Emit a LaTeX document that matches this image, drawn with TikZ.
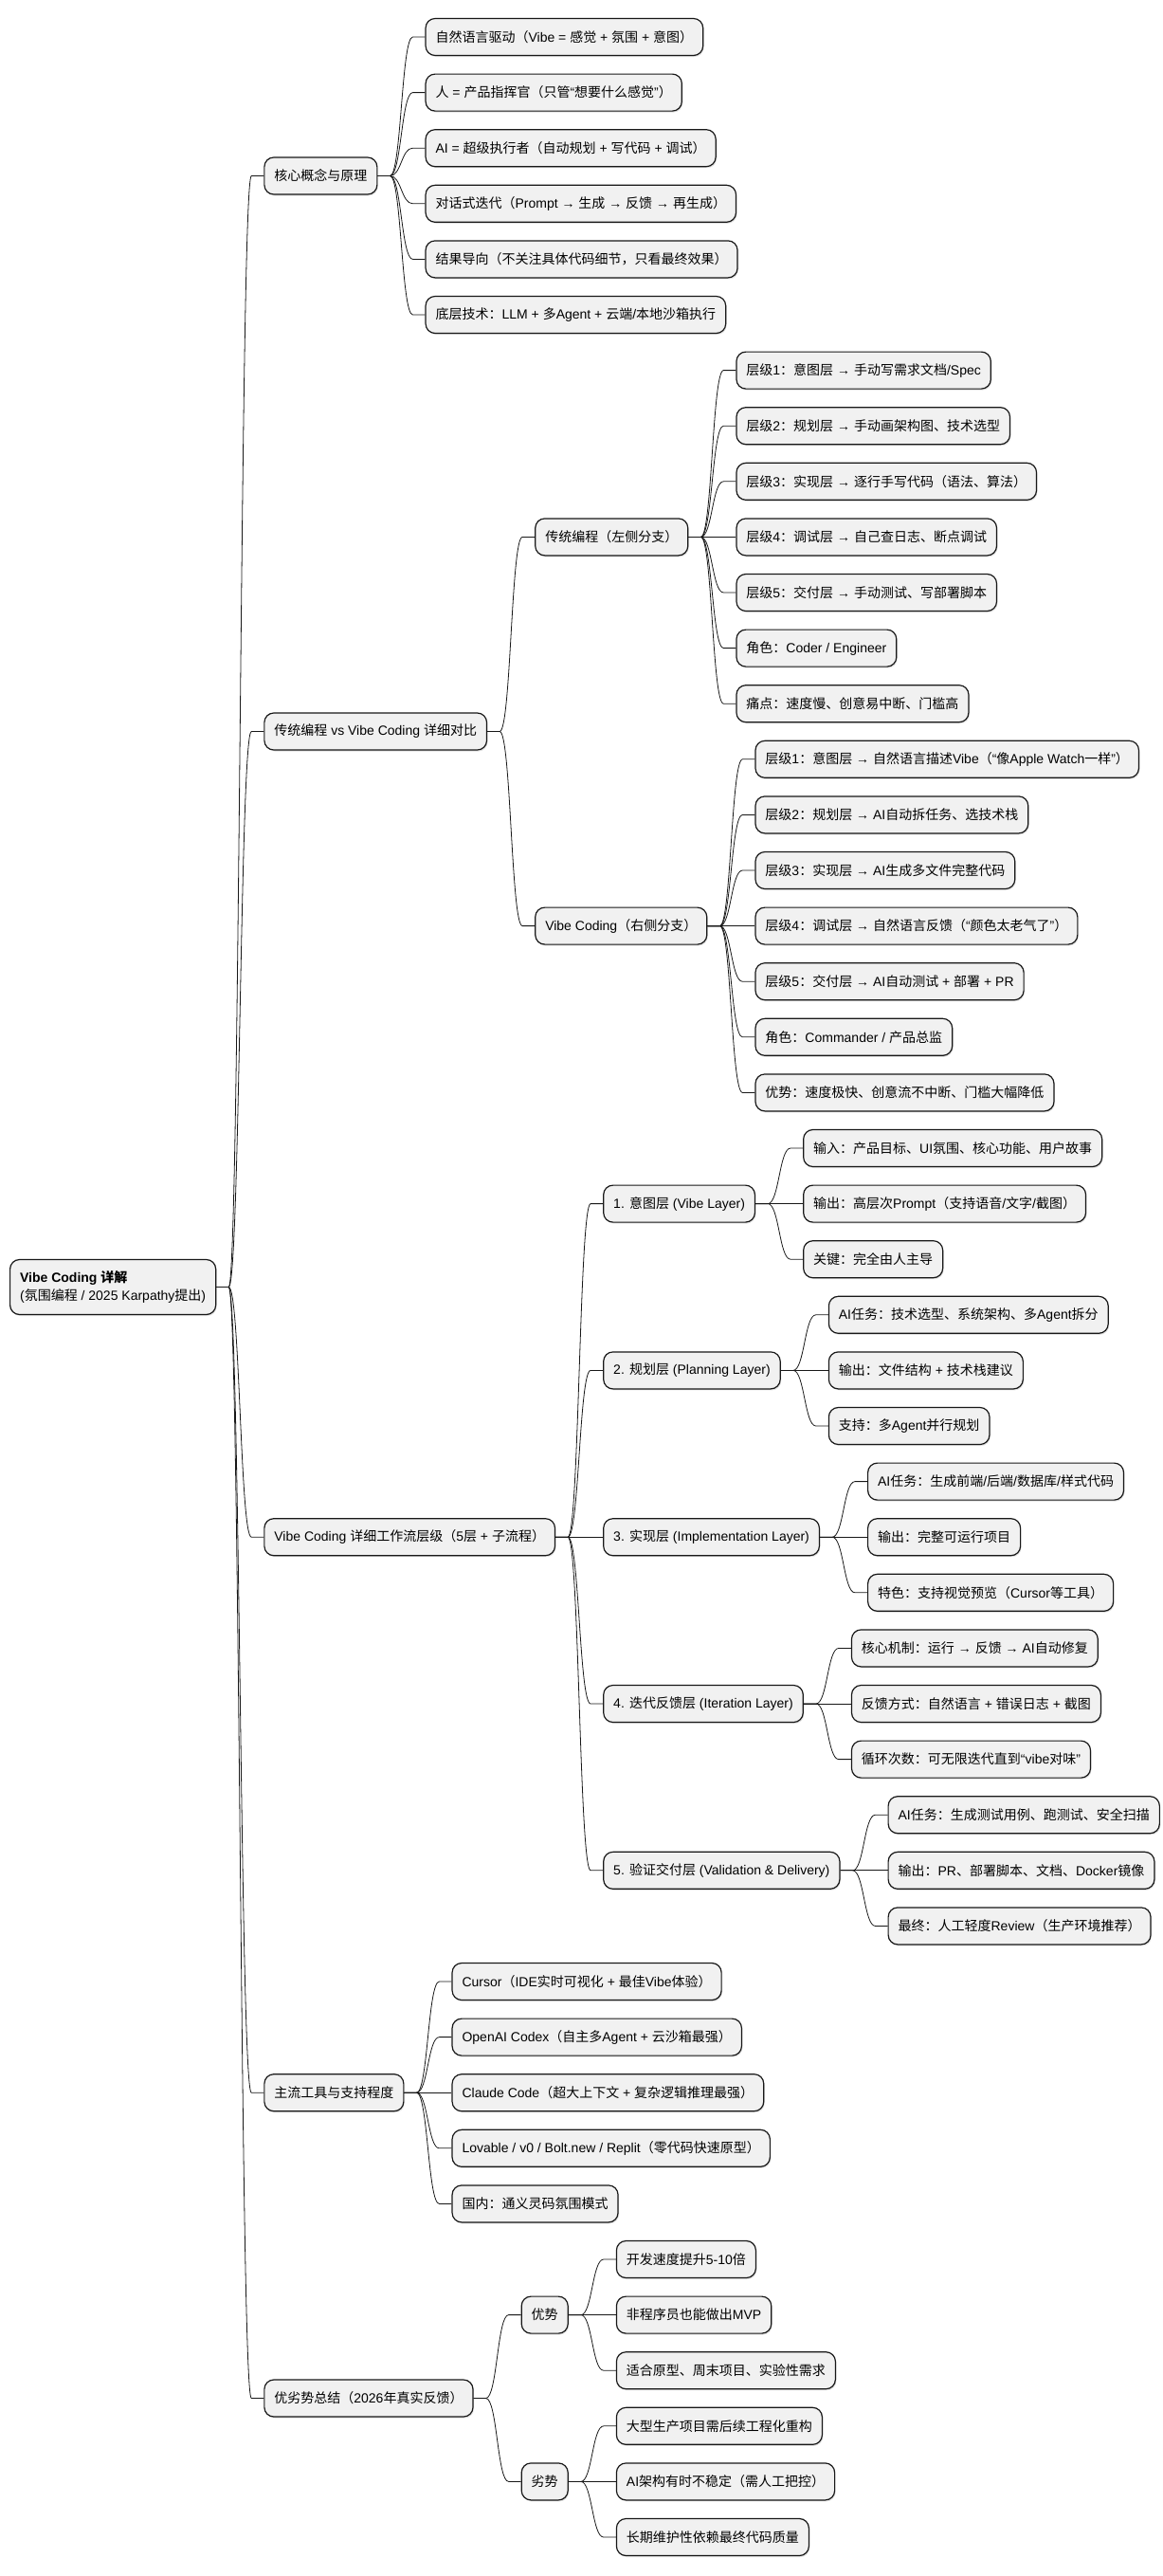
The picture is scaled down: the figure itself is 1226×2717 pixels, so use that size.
\documentclass[tikz,border=0pt]{standalone}
\usepackage{fontspec}
\setmainfont{Liberation Sans}
\newfontfamily\cjkfont{Noto Sans CJK SC}
\usepackage{xcolor}
\usetikzlibrary{positioning, shadows}

% Chinese characters are set in the CJK font, arrows in bold
\XeTeXinterchartokenstate=1
\chardef\cjkcls=9
\chardef\arrcls=10
\newcount\charidx
\charidx=32
\loop\XeTeXcharclass\charidx=0 \advance\charidx by 1 \ifnum\charidx<127 \repeat
\charidx="3000
\loop\XeTeXcharclass\charidx=\cjkcls \advance\charidx by 1 \ifnum\charidx<"A000 \repeat
\charidx="FF00
\loop\XeTeXcharclass\charidx=\cjkcls \advance\charidx by 1 \ifnum\charidx<"FF60 \repeat
\XeTeXcharclass"201C=0 \XeTeXcharclass"201D=0 \XeTeXcharclass"2192=\arrcls
\XeTeXinterchartoks 0 \cjkcls = {\begingroup\cjkfont}
\XeTeXinterchartoks 4095 \cjkcls = {\begingroup\cjkfont}
\XeTeXinterchartoks \cjkcls 0 = {\endgroup}
\XeTeXinterchartoks \cjkcls 4095 = {\endgroup}
\XeTeXinterchartoks 0 \arrcls = {\begingroup\bfseries}
\XeTeXinterchartoks 4095 \arrcls = {\begingroup\bfseries}
\XeTeXinterchartoks \arrcls 0 = {\endgroup}
\XeTeXinterchartoks \arrcls 4095 = {\endgroup}

\definecolor{boxgray}{HTML}{F1F1F1}
\definecolor{edge}{HTML}{181818}

\begin{document}
\begin{tikzpicture}[
    x=1pt, y=1pt,
    node distance=50pt,
    box/.style={draw=edge, line width=1.2pt, fill=boxgray, rounded corners=10pt, minimum height=39pt, inner xsep=10.5pt, inner ysep=2pt, anchor=west, font=\fontsize{14pt}{19pt}\selectfont,
        drop shadow={shadow xshift=1pt, shadow yshift=-1.5pt, opacity=0.25}},
    link/.style={draw=edge, line width=0.8pt, to path={-- ++(13,0) .. controls +(12,0) and +(-12,0) .. ([xshift=-13pt]\tikztotarget) -- (\tikztotarget)}}
]
\useasboundingbox (0,0) rectangle (1226,-2717);

% Root
\node[box, align=left, minimum height=58pt] (root) at (10,-1357.5) {\textbf{Vibe Coding 详解}\\(氛围编程 / 2025 Karpathy提出)};

% Main branches
\node[box, right=of root, yshift=1172pt] (core) {核心概念与原理};
\node[box, right=of root, yshift=586pt] (compare) {传统编程 vs Vibe Coding 详细对比};
\node[box, right=of root, yshift=-263.7pt] (flow) {Vibe Coding 详细工作流层级（5层 + 子流程）};
\node[box, right=of root, yshift=-849.7pt] (tools) {主流工具与支持程度};
\node[box, right=of root, yshift=-1172pt] (summary) {优劣势总结（2026年真实反馈）};

% Core concepts
\node[box, right=of core, yshift=146.5pt] (natural) {自然语言驱动（Vibe = 感觉 + 氛围 + 意图）};
\node[box, right=of core, yshift=87.9pt] (human) {人 = 产品指挥官（只管“想要什么感觉”）};
\node[box, right=of core, yshift=29.3pt] (executor) {AI = 超级执行者（自动规划 + 写代码 + 调试）};
\node[box, right=of core, yshift=-29.3pt] (dialog) {对话式迭代（Prompt → 生成 → 反馈 → 再生成）};
\node[box, right=of core, yshift=-87.9pt] (result) {结果导向（不关注具体代码细节，只看最终效果）};
\node[box, right=of core, yshift=-146.5pt] (basetech) {底层技术：LLM + 多Agent + 云端/本地沙箱执行};

% Comparison
\node[box, right=of compare, yshift=205.1pt] (trad) {传统编程（左侧分支）};
\node[box, right=of compare, yshift=-205.1pt] (vibe) {Vibe Coding（右侧分支）};

\node[box, right=of trad, yshift=175.8pt] (tradA) {层级1：意图层 → 手动写需求文档/Spec};
\node[box, right=of trad, yshift=117.2pt] (tradB) {层级2：规划层 → 手动画架构图、技术选型};
\node[box, right=of trad, yshift=58.6pt] (tradC) {层级3：实现层 → 逐行手写代码（语法、算法）};
\node[box, right=of trad] (tradD) {层级4：调试层 → 自己查日志、断点调试};
\node[box, right=of trad, yshift=-58.6pt] (tradE) {层级5：交付层 → 手动测试、写部署脚本};
\node[box, right=of trad, yshift=-117.2pt] (tradrole) {角色：Coder / Engineer};
\node[box, right=of trad, yshift=-175.8pt] (tradpain) {痛点：速度慢、创意易中断、门槛高};

\node[box, right=of vibe, yshift=175.8pt] (vibeA) {层级1：意图层 → 自然语言描述Vibe（“像Apple Watch一样”）};
\node[box, right=of vibe, yshift=117.2pt] (vibeB) {层级2：规划层 → AI自动拆任务、选技术栈};
\node[box, right=of vibe, yshift=58.6pt] (vibeC) {层级3：实现层 → AI生成多文件完整代码};
\node[box, right=of vibe] (vibeD) {层级4：调试层 → 自然语言反馈（“颜色太老气了”）};
\node[box, right=of vibe, yshift=-58.6pt] (vibeE) {层级5：交付层 → AI自动测试 + 部署 + PR};
\node[box, right=of vibe, yshift=-117.2pt] (viberole) {角色：Commander / 产品总监};
\node[box, right=of vibe, yshift=-175.8pt] (vibegain) {优势：速度极快、创意流不中断、门槛大幅降低};

% Workflow layers
\node[box, right=of flow, yshift=351.6pt] (intent) {1. 意图层 (Vibe Layer)};
\node[box, right=of flow, yshift=175.8pt] (plan) {2. 规划层 (Planning Layer)};
\node[box, right=of flow] (impl) {3. 实现层 (Implementation Layer)};
\node[box, right=of flow, yshift=-175.8pt] (iter) {4. 迭代反馈层 (Iteration Layer)};
\node[box, right=of flow, yshift=-351.6pt] (deliver) {5. 验证交付层 (Validation \& Delivery)};

\node[box, right=of intent, yshift=58.6pt] (intentin) {输入：产品目标、UI氛围、核心功能、用户故事};
\node[box, right=of intent] (intentout) {输出：高层次Prompt（支持语音/文字/截图）};
\node[box, right=of intent, yshift=-58.6pt] (intentkey) {关键：完全由人主导};

\node[box, right=of plan, yshift=58.6pt] (planai) {AI任务：技术选型、系统架构、多Agent拆分};
\node[box, right=of plan] (planout) {输出：文件结构 + 技术栈建议};
\node[box, right=of plan, yshift=-58.6pt] (planmulti) {支持：多Agent并行规划};

\node[box, right=of impl, yshift=58.6pt] (implai) {AI任务：生成前端/后端/数据库/样式代码};
\node[box, right=of impl] (implout) {输出：完整可运行项目};
\node[box, right=of impl, yshift=-58.6pt] (implview) {特色：支持视觉预览（Cursor等工具）};

\node[box, right=of iter, yshift=58.6pt] (itercore) {核心机制：运行 → 反馈 → AI自动修复};
\node[box, right=of iter] (iterfeed) {反馈方式：自然语言 + 错误日志 + 截图};
\node[box, right=of iter, yshift=-58.6pt] (iterloop) {循环次数：可无限迭代直到“vibe对味”};

\node[box, right=of deliver, yshift=58.6pt] (deliverai) {AI任务：生成测试用例、跑测试、安全扫描};
\node[box, right=of deliver] (deliverout) {输出：PR、部署脚本、文档、Docker镜像};
\node[box, right=of deliver, yshift=-58.6pt] (deliverend) {最终：人工轻度Review（生产环境推荐）};

% Tools
\node[box, right=of tools, yshift=117.2pt] (cursor) {Cursor（IDE实时可视化 + 最佳Vibe体验）};
\node[box, right=of tools, yshift=58.6pt] (codex) {OpenAI Codex（自主多Agent + 云沙箱最强）};
\node[box, right=of tools] (claude) {Claude Code（超大上下文 + 复杂逻辑推理最强）};
\node[box, right=of tools, yshift=-58.6pt] (lovable) {Lovable / v0 / Bolt.new / Replit（零代码快速原型）};
\node[box, right=of tools, yshift=-117.2pt] (domestic) {国内：通义灵码氛围模式};

% Pros and cons
\node[box, right=of summary, yshift=87.9pt] (pros) {优势};
\node[box, right=of summary, yshift=-87.9pt] (cons) {劣势};

\node[box, right=of pros, yshift=58.6pt] (prospeed) {开发速度提升5-10倍};
\node[box, right=of pros] (promvp) {非程序员也能做出MVP};
\node[box, right=of pros, yshift=-58.6pt] (profit) {适合原型、周末项目、实验性需求};

\node[box, right=of cons, yshift=58.6pt] (conrefactor) {大型生产项目需后续工程化重构};
\node[box, right=of cons] (conarch) {AI架构有时不稳定（需人工把控）};
\node[box, right=of cons, yshift=-58.6pt] (conquality) {长期维护性依赖最终代码质量};

% Links
\draw[link] (root.east) to (core.west);
\draw[link] (root.east) to (compare.west);
\draw[link] (root.east) to (flow.west);
\draw[link] (root.east) to (tools.west);
\draw[link] (root.east) to (summary.west);

\draw[link] (core.east) to (natural.west);
\draw[link] (core.east) to (human.west);
\draw[link] (core.east) to (executor.west);
\draw[link] (core.east) to (dialog.west);
\draw[link] (core.east) to (result.west);
\draw[link] (core.east) to (basetech.west);

\draw[link] (compare.east) to (trad.west);
\draw[link] (compare.east) to (vibe.west);

\draw[link] (trad.east) to (tradA.west);
\draw[link] (trad.east) to (tradB.west);
\draw[link] (trad.east) to (tradC.west);
\draw[link] (trad.east) to (tradD.west);
\draw[link] (trad.east) to (tradE.west);
\draw[link] (trad.east) to (tradrole.west);
\draw[link] (trad.east) to (tradpain.west);

\draw[link] (vibe.east) to (vibeA.west);
\draw[link] (vibe.east) to (vibeB.west);
\draw[link] (vibe.east) to (vibeC.west);
\draw[link] (vibe.east) to (vibeD.west);
\draw[link] (vibe.east) to (vibeE.west);
\draw[link] (vibe.east) to (viberole.west);
\draw[link] (vibe.east) to (vibegain.west);

\draw[link] (flow.east) to (intent.west);
\draw[link] (flow.east) to (plan.west);
\draw[link] (flow.east) to (impl.west);
\draw[link] (flow.east) to (iter.west);
\draw[link] (flow.east) to (deliver.west);

\draw[link] (intent.east) to (intentin.west);
\draw[link] (intent.east) to (intentout.west);
\draw[link] (intent.east) to (intentkey.west);
\draw[link] (plan.east) to (planai.west);
\draw[link] (plan.east) to (planout.west);
\draw[link] (plan.east) to (planmulti.west);
\draw[link] (impl.east) to (implai.west);
\draw[link] (impl.east) to (implout.west);
\draw[link] (impl.east) to (implview.west);
\draw[link] (iter.east) to (itercore.west);
\draw[link] (iter.east) to (iterfeed.west);
\draw[link] (iter.east) to (iterloop.west);
\draw[link] (deliver.east) to (deliverai.west);
\draw[link] (deliver.east) to (deliverout.west);
\draw[link] (deliver.east) to (deliverend.west);

\draw[link] (tools.east) to (cursor.west);
\draw[link] (tools.east) to (codex.west);
\draw[link] (tools.east) to (claude.west);
\draw[link] (tools.east) to (lovable.west);
\draw[link] (tools.east) to (domestic.west);

\draw[link] (summary.east) to (pros.west);
\draw[link] (summary.east) to (cons.west);
\draw[link] (pros.east) to (prospeed.west);
\draw[link] (pros.east) to (promvp.west);
\draw[link] (pros.east) to (profit.west);
\draw[link] (cons.east) to (conrefactor.west);
\draw[link] (cons.east) to (conarch.west);
\draw[link] (cons.east) to (conquality.west);

\end{tikzpicture}
\end{document}
